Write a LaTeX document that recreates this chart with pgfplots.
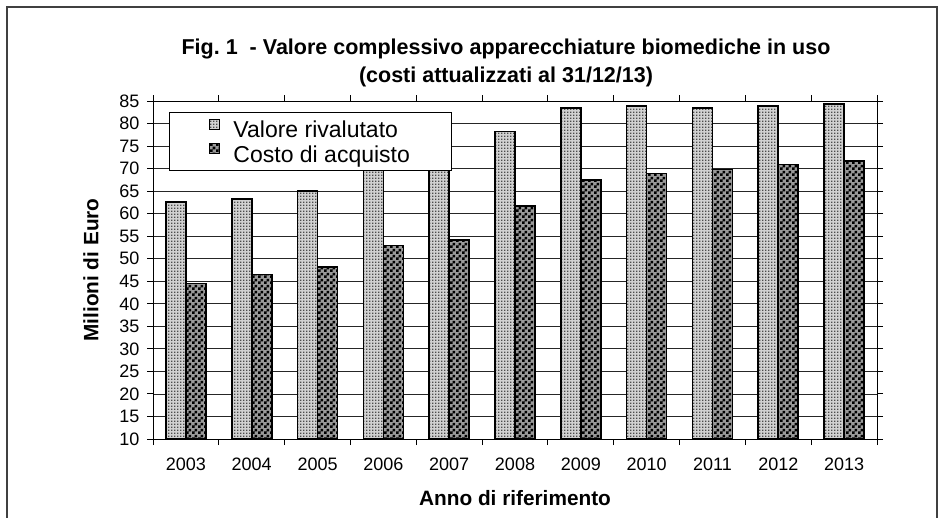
\documentclass[border=0pt]{standalone}
\usepackage{fontspec}
\setmainfont{Liberation Sans}
\usepackage{pgfplots}
\pgfplotsset{compat=1.18}
\usetikzlibrary{patterns}

\pgfdeclarepatternformonly{finedots}{\pgfqpoint{0pt}{0pt}}{\pgfqpoint{3pt}{3pt}}{\pgfqpoint{3pt}{3pt}}{%
  \pgfpathrectangle{\pgfqpoint{0pt}{0pt}}{\pgfqpoint{1.7pt}{1.7pt}}\pgfusepath{fill}}
\pgfdeclarepatternformonly{checker}{\pgfqpoint{0pt}{0pt}}{\pgfqpoint{6pt}{6pt}}{\pgfqpoint{6pt}{6pt}}{%
  \pgfpathrectangle{\pgfqpoint{0pt}{0pt}}{\pgfqpoint{3pt}{3pt}}%
  \pgfpathrectangle{\pgfqpoint{3pt}{3pt}}{\pgfqpoint{3pt}{3pt}}\pgfusepath{fill}}

\pgfplotstableread{
x val cost
0 62.6 44.5
1 63.3 46.5
2 65.0 48.2
3 71.5 52.9
4 73.5 54.2
5 78.2 61.7
6 83.4 67.5
7 83.9 68.9
8 83.4 69.8
9 83.9 70.9
10 84.3 71.7
}\datatable

\begin{document}
\begin{tikzpicture}[x=1pt,y=1pt]
\useasboundingbox (0,0) rectangle (939,-518);
\draw[black!75, line width=2pt] (7,-530) -- (7,-7) -- (937,-7) -- (937,-530);
\node[anchor=base, font=\fontsize{21.5}{25}\selectfont\bfseries] at (506,-55) {Fig.~1\ \ - Valore complessivo apparecchiature biomediche in uso};
\node[anchor=base, font=\fontsize{21.5}{25}\selectfont\bfseries] at (506,-83) {(costi attualizzati al 31/12/13)};
\begin{axis}[
  at={(153pt,-439pt)}, anchor=south west,
  scale only axis, width=724pt, height=338pt,
  xmin=-0.5, xmax=10.5, ymin=10, ymax=85,
  ybar=0pt, bar width=20pt,
  xtick={0,...,10},
  xticklabels={2003,2004,2005,2006,2007,2008,2009,2010,2011,2012,2013},
  major x tick style={draw=none},
  minor xtick={-0.5,0.5,1.5,2.5,3.5,4.5,5.5,6.5,7.5,8.5,9.5,10.5},
  ytick={10,15,...,85},
  tick align=outside, major tick length=6pt, minor tick length=6pt,
  ymajorgrids, grid style={black!85, line width=0.8pt},
  axis line style={black, line width=1pt},
  tick style={black, line width=1pt},
  /pgf/number format/assume math mode=true,
  ticklabel style={font=\fontsize{18}{21}\selectfont},
  xticklabel style={yshift=-9pt},
  yticklabel style={xshift=-4pt},
  xlabel={Anno di riferimento},
  ylabel={Milioni di Euro},
  label style={font=\fontsize{20.8}{24}\selectfont\bfseries},
  xlabel style={at={(axis description cs:0.5,0)}, anchor=base, yshift=-66pt},
  ylabel style={at={(axis description cs:0,0.5)}, anchor=center, rotate=0, yshift=62pt},
  legend style={at={(axis description cs:0.0221,0.9675)}, anchor=north west,
    draw=black, line width=1pt, fill=white, inner xsep=40pt, inner ysep=4.5pt,
    font=\fontsize{23}{27}\selectfont, row sep=0pt, column sep=11pt},
  legend cell align=left,
  legend image code/.code={\draw[#1, line width=1pt] (0pt,0pt) rectangle (10pt,10pt);},
]
\addplot[draw=black, line width=1.6pt, fill=black!18, postaction={pattern=finedots, pattern color=black!70}] table[x=x, y=val] {\datatable};
\addplot[draw=black, line width=1.6pt, fill=black!40, postaction={pattern=checker, pattern color=black}] table[x=x, y=cost] {\datatable};
\legend{\strut Valore rivalutato, \strut Costo di acquisto}
\end{axis}
\end{tikzpicture}
\end{document}
